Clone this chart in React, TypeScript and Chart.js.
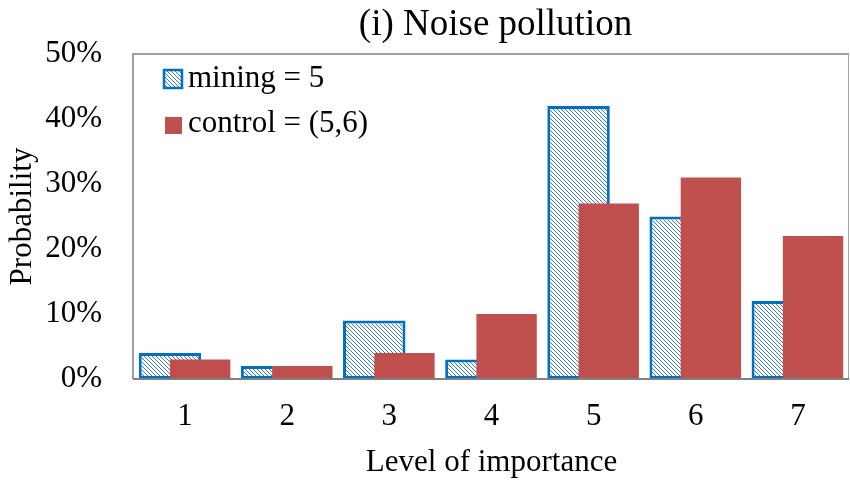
import React, { useEffect, useRef } from 'react';
import { Chart, registerables } from 'chart.js';

Chart.register(...registerables);

const categories = ['1', '2', '3', '4', '5', '6', '7'];
const miningValues = [4, 2, 9, 3, 42, 25, 12];
const controlValues = [3, 2, 4, 10, 27, 31, 22];
const yTickValues = [0, 10, 20, 30, 40, 50];
const seriesLabels = ['mining = 5', 'control = (5,6)'];
const chartTitle = '(i) Noise pollution';
const xAxisTitle = 'Level of importance';
const yAxisTitle = 'Probability';

const BLUE = '#0070C0';
const HATCH = '#3b78c4';
const RED = '#C0504D';
const GRAY = '#808080';
const FONT = "'Liberation Serif', 'Times New Roman', serif";

function makeHatch(ctx: CanvasRenderingContext2D): CanvasPattern | string {
  const tile = document.createElement('canvas');
  tile.width = 8;
  tile.height = 8;
  const g = tile.getContext('2d');
  if (!g) return HATCH;
  g.fillStyle = '#ffffff';
  g.fillRect(0, 0, 8, 8);
  g.fillStyle = HATCH;
  for (let y = 0; y < 8; y++) {
    for (let x = 0; x < 8; x++) {
      if ((((x - y) % 4) + 4) % 4 === 0) g.fillRect(x, y, 1, 1);
    }
  }
  return ctx.createPattern(tile, 'repeat') || HATCH;
}

export default function App() {
  const canvasRef = useRef<HTMLCanvasElement | null>(null);

  useEffect(() => {
    const canvas = canvasRef.current;
    if (!canvas) return;
    const ctx = canvas.getContext('2d');
    if (!ctx) return;
    const hatch = makeHatch(ctx);

    const customPlugin = {
      id: 'customDraw',
      beforeDatasetDraw(_chart: any, args: any) {
        if (args.index === 0) return false;
        return true;
      },
      beforeDatasetsDraw(chart: any) {
        chart.getDatasetMeta(0).controller.draw();
      },
      afterDatasetsDraw(chart: any) {
        const c = chart.ctx as CanvasRenderingContext2D;
        const { left, right, top, bottom } = chart.chartArea;
        c.save();
        c.strokeStyle = GRAY;
        c.lineWidth = 1.5;
        c.beginPath();
        c.moveTo(left - 1, bottom);
        c.lineTo(left - 1, top);
        c.lineTo(right, top);
        c.stroke();
        c.lineWidth = 1;
        c.strokeStyle = '#a6a6a6';
        c.beginPath();
        c.moveTo(right - 0.5, top);
        c.lineTo(right - 0.5, bottom);
        c.stroke();
        c.strokeStyle = GRAY;
        c.lineWidth = 2;
        c.beginPath();
        c.moveTo(left - 1, bottom);
        c.lineTo(right, bottom);
        c.stroke();
        c.restore();
      },
      afterDraw(chart: any) {
        const c = chart.ctx as CanvasRenderingContext2D;
        const { left, right } = chart.chartArea;
        c.save();
        // title
        c.fillStyle = '#000';
        c.font = `37px ${FONT}`;
        c.textAlign = 'center';
        c.textBaseline = 'middle';
        c.fillText(chartTitle, (left + right) / 2 + 4, 25);
        // legend
        c.font = `31px ${FONT}`;
        c.textAlign = 'left';
        c.fillStyle = hatch as any;
        c.fillRect(164, 70, 18, 18);
        c.strokeStyle = BLUE;
        c.lineWidth = 2.5;
        c.strokeRect(164, 70, 18, 18);
        c.fillStyle = RED;
        c.fillRect(165, 117, 17, 17);
        c.fillStyle = '#000';
        c.fillText(seriesLabels[0], 188, 79);
        c.fillText(seriesLabels[1], 188, 124);
        c.restore();
      },
    };

    const chart = new Chart(canvas, {
      type: 'bar',
      data: {
        labels: categories,
        datasets: [
          {
            label: seriesLabels[0],
            data: miningValues,
            backgroundColor: hatch as any,
            borderColor: BLUE,
            borderWidth: 3,
            borderSkipped: false,
            categoryPercentage: 0.591,
            barPercentage: 2.07,
          },
          {
            label: seriesLabels[1],
            data: controlValues,
            backgroundColor: RED,
            borderWidth: 0,
            categoryPercentage: 0.591,
            barPercentage: 2.0,
          },
        ],
      },
      options: {
        animation: false,
        responsive: false,
        devicePixelRatio: 1,
        events: [],
        layout: { padding: { top: 54, right: 1, left: 0, bottom: 0 } },
        plugins: {
          legend: { display: false },
          title: { display: false },
          tooltip: { enabled: false },
        },
        scales: {
          x: {
            grid: { display: false, drawTicks: false },
            border: { display: false },
            ticks: { color: '#000', font: { family: FONT, size: 31 }, padding: 19 },
            title: {
              display: true,
              text: xAxisTitle,
              color: '#000',
              font: { family: FONT, size: 31 },
              padding: { top: 0, bottom: 6 },
            },
            afterFit: (s: any) => {
              s.height = 108;
            },
          },
          y: {
            min: 0,
            max: 50,
            grid: { display: false, drawTicks: false },
            border: { display: false },
            ticks: {
              color: '#000',
              font: { family: FONT, size: 31 },
              padding: 32,
              callback: (v: any) => `${v}%`,
            },
            afterBuildTicks: (s: any) => {
              s.ticks = yTickValues.map((v) => ({ value: v }));
            },
            title: {
              display: true,
              text: yAxisTitle,
              color: '#000',
              font: { family: FONT, size: 31 },
              padding: { top: 4, bottom: 0 },
            },
            afterFit: (s: any) => {
              s.width = 134;
            },
          },
        },
      },
      plugins: [customPlugin as any],
    });

    return () => {
      chart.destroy();
    };
  }, []);

  return (
    <div style={{ position: 'fixed', left: 0, top: 0, width: 850, height: 487, background: '#fff' }}>
      <canvas ref={canvasRef} width={850} height={487} style={{ width: 850, height: 487, display: 'block' }} />
    </div>
  );
}
